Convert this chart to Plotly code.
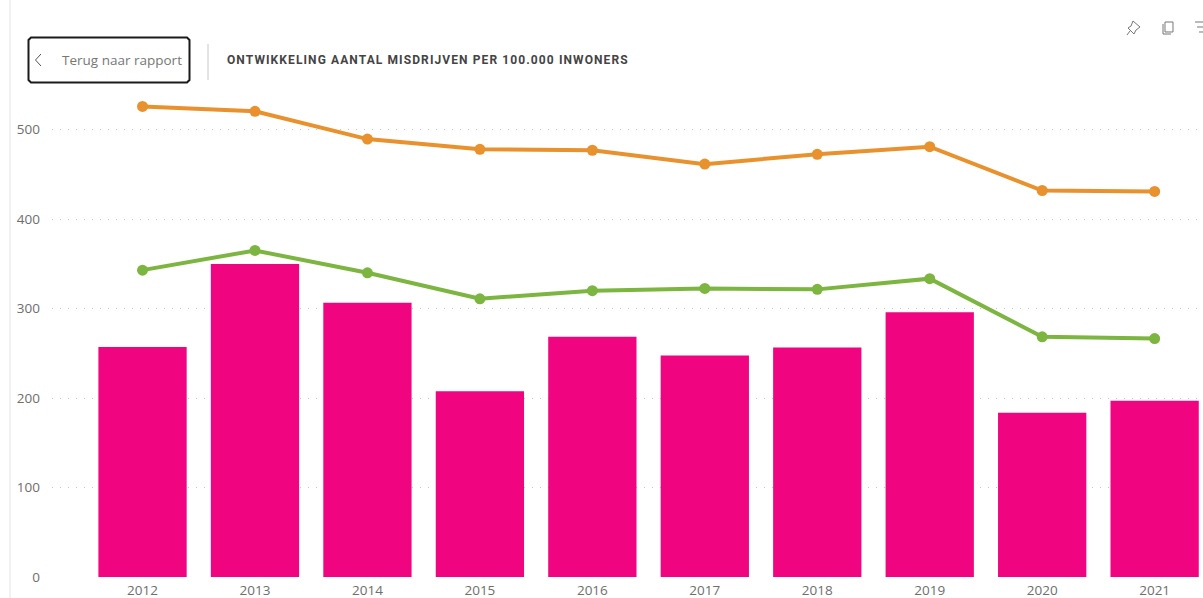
import plotly.graph_objects as go

years = ["2012", "2013", "2014", "2015", "2016", "2017", "2018", "2019", "2020", "2021"]
orange_values = [526, 520.5, 489.5, 478, 477, 461.5, 472.5, 481, 432, 431]
green_values = [343, 365, 340, 311, 320, 322.5, 321.5, 333.5, 268.5, 266.5]
bar_values = [257, 350, 306.5, 207.5, 268.5, 247.5, 256.5, 296, 183.5, 197]
y_ticks = [0, 100, 200, 300, 400, 500]

W, H = 1203, 598
GREY = "#6E6E6E"
SANS = "Open Sans, Noto Sans, sans-serif"

def px(x):
    return x / W

def py(y):
    return 1 - y / H

def line(x0, y0, x1, y1, color, width=1):
    return dict(type="line", xref="paper", yref="paper", x0=px(x0), y0=py(y0), x1=px(x1), y1=py(y1),
                line=dict(color=color, width=width))

def icon(path, color="#777777", width=1):
    return dict(type="path", xref="paper", yref="paper", path=path, line=dict(color=color, width=width))

def pth(points, close=False):
    s = "M" + " L".join(f"{px(a):.5f},{py(b):.5f}" for a, b in points)
    return s + (" Z" if close else "")

fig = go.Figure()
fig.add_bar(x=years, y=bar_values, marker=dict(color="#F0047F", line=dict(width=0)), width=0.785, showlegend=False)
fig.add_scatter(x=years, y=orange_values, mode="lines+markers", line=dict(color="#E8912D", width=4),
                marker=dict(color="#E8912D", size=11), showlegend=False)
fig.add_scatter(x=years, y=green_values, mode="lines+markers", line=dict(color="#7CB53F", width=4),
                marker=dict(color="#7CB53F", size=11), showlegend=False)

shapes = [
    line(10, 0, 10, 598, "#E3E3E3", 1),
    icon(pth([(31, 37.5), (187, 37.5), (189.5, 40), (189.5, 80), (187, 82.5), (31, 82.5), (28.5, 80), (28.5, 40)], True),
         "#1A1A1A", 2),
    line(208, 44, 208, 80, "#C8C8C8", 1),
    icon(pth([(41, 54), (35.5, 60), (41, 66)]), "#555555", 1),
    # pin
    icon(pth([(1133, 21), (1140, 27), (1136, 30), (1134, 34), (1128, 28), (1131, 26)], True)),
    icon(pth([(1130, 31), (1127, 35)])),
    # copy
    icon(pth([(1165, 22), (1173, 22), (1173, 32), (1165, 32)], True)),
    icon(pth([(1163, 24), (1163, 34), (1171, 34)])),
    # filter
    icon(pth([(1195, 22), (1203, 22)])),
    icon(pth([(1197, 27), (1203, 27)])),
    icon(pth([(1199, 32), (1203, 32)])),
]

annotations = [
    dict(text="Terug naar rapport", x=px(60), y=py(60), xref="paper", yref="paper", xanchor="left", yanchor="middle",
         align="left", showarrow=False, font=dict(family=SANS, size=13.5, color="#777777")),
    dict(text="<b>ONTWIKKELING AANTAL MISDRIJVEN PER 100.000 INWONERS</b>", x=px(225), y=py(60), xref="paper",
         yref="paper", xanchor="left", yanchor="middle", align="left", showarrow=False,
         font=dict(family="Roboto, sans-serif", size=12, color="#444444")),
]

fig.update_layout(
    width=W, height=H, autosize=False,
    margin=dict(l=0, r=0, t=0, b=0),
    paper_bgcolor="white", plot_bgcolor="white",
    shapes=shapes, annotations=annotations,
    xaxis=dict(domain=[px(52), 1], range=[-0.805, 9.43], type="category", showgrid=False, zeroline=False,
               showline=False, ticks="", automargin=False,
               tickfont=dict(family=SANS, size=13.5, color=GREY), ticklabelstandoff=3),
    yaxis=dict(domain=[py(577), py(76)], range=[0, 560], tickvals=y_ticks, showgrid=True, griddash="1px,7px",
               gridcolor="#C4C4C4", gridwidth=1, zeroline=False, showline=False, ticks="", automargin=False,
               tickfont=dict(family=SANS, size=13.5, color=GREY), ticklabelstandoff=11),
)

post = """
document.body.style.margin='0';
document.body.style.overflow='hidden';
var t=document.querySelectorAll('.annotation-text');
if(t.length>1){t[1].style.letterSpacing='1.1px';}
"""
fig.write_html("out.html", config={"displayModeBar": False}, post_script=post)
